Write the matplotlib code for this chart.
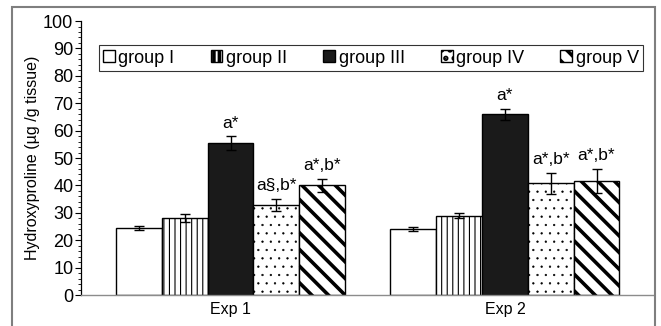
import numpy as np
import matplotlib
matplotlib.use("Agg")
import matplotlib.pyplot as plt
from matplotlib.patches import Rectangle
from matplotlib.ticker import MultipleLocator

# ---------------------------
# Data
# ---------------------------
experiments = ["Exp 1", "Exp 2"]
groups = ["group I", "group II", "group III", "group IV", "group V"]

values = {
    "group I":   [24.5, 24.0],
    "group II":  [28.0, 29.0],
    "group III": [55.5, 66.0],
    "group IV":  [33.0, 40.8],
    "group V":   [40.0, 41.6],
}
errors = {
    "group I":   [0.7, 0.8],
    "group II":  [1.5, 0.8],
    "group III": [2.5, 2.0],
    "group IV":  [2.2, 3.8],
    "group V":   [2.5, 4.5],
}
labels = {
    "group I":   ["", ""],
    "group II":  ["", ""],
    "group III": ["a*", "a*"],
    "group IV":  ["a§,b*", "a*,b*"],
    "group V":   ["a*,b*", "a*,b*"],
}

# bar styles: (facecolor, hatch, hatch linewidth)
styles = {
    "group I":   ("white", None, 0.8),
    "group II":  ("white", "|||", 0.8),
    "group III": ("#1a1a1a", None, 0.8),
    "group IV":  ("white", "..", 0.4),
    "group V":   ("white", "\\\\", 2.6),
}

plt.rcParams["font.family"] = ["Liberation Sans", "DejaVu Sans"]
plt.rcParams["hatch.color"] = "black"

fig = plt.figure(figsize=(6.61, 3.26), dpi=100)
ax = fig.add_axes([0.1225, 0.095, 0.8655, 0.8405])

# outer grey frame
fig.patches.append(Rectangle((12 / 661, -0.05), (655 - 12) / 661, 1.05 - 7 / 326,
                             transform=fig.transFigure, fill=False,
                             edgecolor="#7f7f7f", linewidth=1.5))

x = np.arange(len(experiments))
width = 0.167
offsets = (np.arange(len(groups)) - 2) * width

handles = []
for i, g in enumerate(groups):
    fc, hatch, hlw = styles[g]
    plt.rcParams["hatch.linewidth"] = hlw
    bars = ax.bar(x + offsets[i], values[g], width, color=fc, edgecolor="black",
                  linewidth=1.0, hatch=hatch, label=g, zorder=2)
    ax.errorbar(x + offsets[i], values[g], yerr=errors[g], fmt="none",
                ecolor="black", elinewidth=1.0, capsize=3.5, capthick=1.0, zorder=3)
    handles.append(bars)
    for j, lab in enumerate(labels[g]):
        if lab:
            ax.annotate(lab, (x[j] + offsets[i], values[g][j] + errors[g][j]),
                        xytext=(0, 4), textcoords="offset points",
                        ha="center", va="bottom", fontsize=12.5)

ax.set_xlim(-0.545, 1.54)
ax.set_ylim(0, 100)
ax.yaxis.set_major_locator(MultipleLocator(10))
ax.yaxis.set_minor_locator(MultipleLocator(2))
ax.tick_params(axis="y", which="major", length=4, width=0.8, labelsize=13, pad=1.5)
ax.tick_params(axis="y", which="minor", length=2, width=0.6)
ax.set_xticks(x)
ax.set_xticklabels(experiments, fontsize=11.5)
ax.tick_params(axis="x", length=0, pad=5)

for s in ["top", "right"]:
    ax.spines[s].set_visible(False)
ax.spines["left"].set_linewidth(0.9)
ax.spines["bottom"].set_color("#8c8c8c")
ax.spines["bottom"].set_linewidth(1.0)

ax.set_ylabel("Hydroxyproline (µg /g tissue)", fontsize=11.5, labelpad=2)

leg = ax.legend(handles=handles, loc="center", bbox_to_anchor=(0.507, 0.865),
                ncol=5, fontsize=13, frameon=True, fancybox=False,
                edgecolor="black", handlelength=0.65, handleheight=0.65,
                handletextpad=0.2, columnspacing=2.0, borderpad=0.25,
                borderaxespad=0)
leg.get_frame().set_linewidth(0.8)

fig.savefig("out.png", dpi=100)
